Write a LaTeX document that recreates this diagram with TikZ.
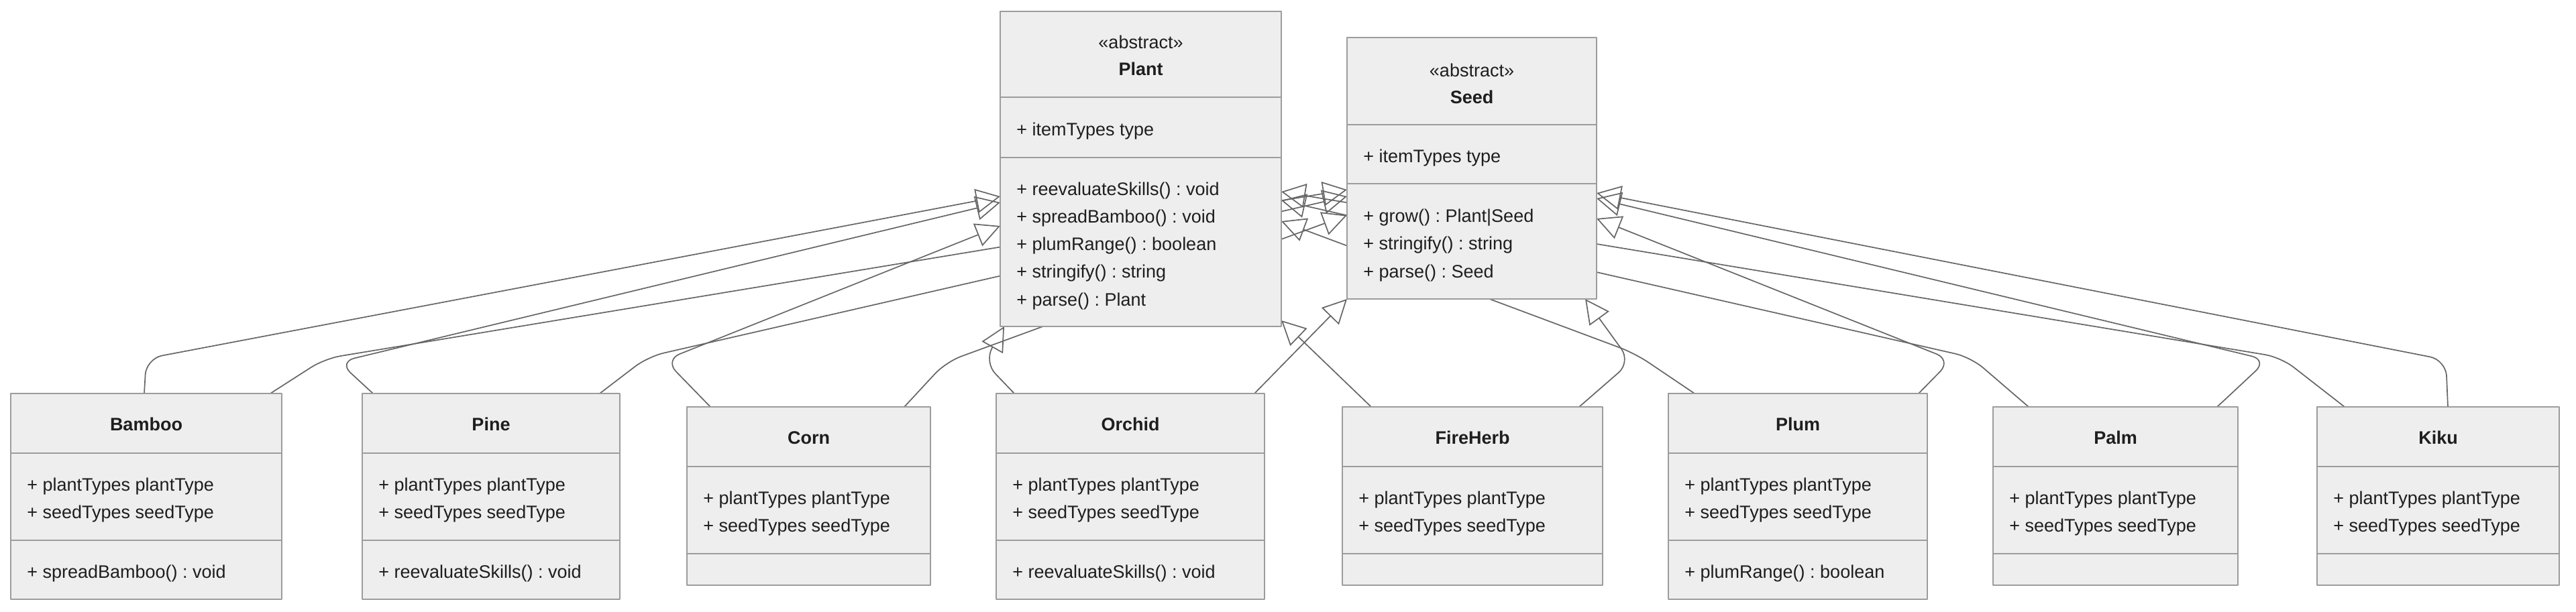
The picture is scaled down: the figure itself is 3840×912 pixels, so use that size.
\documentclass[tikz,border=0pt]{standalone}
\usepackage{fontspec}
\setmainfont{Liberation Sans}
\usetikzlibrary{arrows.meta}
\pgfdeclarelayer{bg}
\pgfsetlayers{bg,main}
\definecolor{boxfill}{HTML}{EEEEEE}
\definecolor{boxline}{HTML}{9C9C9C}
\definecolor{edgeline}{HTML}{666666}
\definecolor{txtcol}{HTML}{1E1E1E}
\newcommand\umlfont{\fontsize{13.5}{16}\selectfont\frenchspacing}
\tikzset{
  classbox/.style={draw=boxline,fill=boxfill,line width=1pt,inner sep=0pt,outer sep=0pt,anchor=north west},
  sep/.style={draw=boxline,line width=1pt},
  member/.style={anchor=west,inner sep=0pt,text height=0.72em,text depth=0pt,text=txtcol,yshift=-1pt},
  title/.style={member,anchor=center,font=\umlfont\bfseries},
  inherit/.style={draw=edgeline,line width=0.85pt,rounded corners=12pt,-{Triangle[open,length=18pt,width=18pt]}}
}
\begin{document}
\begin{tikzpicture}[x=0.5pt,y=-0.5pt,line join=round,font=\umlfont]
\useasboundingbox (0,0) rectangle (3840,912);
% abstract classes
\node[classbox,minimum width=209.5pt,minimum height=235pt] (plant) at (1491,17) {};
\draw[sep] (plant.west |- 0,145) -- (plant.east |- 0,145);
\draw[sep] (plant.west |- 0,235) -- (plant.east |- 0,235);
\node[member,anchor=center] (plant-st) at (1700.5,63) {«abstract»};
\node[title] (plant-name) at (1700.5,103) {Plant};
\node[member] (plant-a1) at (1515,193) {+ itemTypes type};
\foreach \m [count=\i] in {+ reevaluateSkills() : void,+ spreadBamboo() : void,+ plumRange() : boolean,+ stringify() : string,+ parse() : Plant}
  \node[member] (plant-m\i) at (1515,{282+(\i-1)*41.25}) {\m};

\node[classbox,minimum width=186pt,minimum height=195pt] (seed) at (2008,56) {};
\draw[sep] (seed.west |- 0,186) -- (seed.east |- 0,186);
\draw[sep] (seed.west |- 0,274) -- (seed.east |- 0,274);
\node[member,anchor=center] (seed-st) at (2194,105) {«abstract»};
\node[title] (seed-name) at (2194,145) {Seed};
\node[member] (seed-a1) at (2032,233) {+ itemTypes type};
\foreach \m [count=\i] in {+ grow() : Plant|Seed,+ stringify() : string,+ parse() : Seed}
  \node[member] (seed-m\i) at (2032,{322+(\i-1)*41.5}) {\m};

% concrete plants
\foreach \n/\lab/\x/\w/\t/\h in {bamboo/Bamboo/16/404/587/307,pine/Pine/540/384/587/307,
    corn/Corn/1024/363/607/266,orchid/Orchid/1485/400/587/307,fireherb/FireHerb/2001/388/607/266,
    plum/Plum/2487/386/587/307,palm/Palm/2971/365/607/266,kiku/Kiku/3454/361/607/266}{
  \node[classbox,minimum width=\w*0.5pt,minimum height=\h*0.5pt] (\n) at (\x,\t) {};
  \draw[sep] (\x,{\t+89}) -- ({\x+\w},{\t+89});
  \draw[sep] (\x,{\t+219}) -- ({\x+\w},{\t+219});
  \node[title] (\n-name) at ({\x+\w/2},{\t+46}) {\lab};
  \node[member] (\n-a1) at ({\x+24},{\t+136}) {+ plantTypes plantType};
  \node[member] (\n-a2) at ({\x+24},{\t+177}) {+ seedTypes seedType};
}
\node[member] (bamboo-m1) at (40,853) {+ spreadBamboo() : void};
\node[member] (pine-m1) at (564,853) {+ reevaluateSkills() : void};
\node[member] (orchid-m1) at (1509,853) {+ reevaluateSkills() : void};
\node[member] (plum-m1) at (2511,853) {+ plumRange() : boolean};

% inheritance, behind the boxes
\begin{pgfonlayer}{bg}
\draw[inherit] (215,0 |- bamboo.north) -- (218,535) -- (plant.west |- 0,293);
\draw[inherit] (403,0 |- bamboo.north) -- (484,535) -- (seed.west |- 0,283);
\draw[inherit] (556,0 |- pine.north) -- (505,540) -- (plant.west |- 0,302);
\draw[inherit] (894,0 |- pine.north) -- (966,532) -- (seed.west |- 0,293);
\draw[inherit] (1059,0 |- corn.north) -- (991,537) -- (plant.west |- 0,337);
\draw[inherit] (1348,0 |- corn.north) -- (1410,540) -- (seed.west |- 0,321);
\draw[inherit] (1512,0 |- orchid.north) -- (1467,540) -- (1497,0 |- plant.south);
\draw[inherit] (1870,0 |- orchid.north) -- (seed.south west);
\draw[inherit] (2044,0 |- fireherb.north) -- (plant.east |- 0,478);
\draw[inherit] (2354,0 |- fireherb.north) -- (2431,540) -- (2363,0 |- seed.south);
\draw[inherit] (2526,0 |- plum.north) -- (2437,527) -- (plant.east |- 0,330);
\draw[inherit] (2860,0 |- plum.north) -- (2909,537) -- (seed.east |- 0,326);
\draw[inherit] (3024,0 |- palm.north) -- (2938,533) -- (plant.east |- 0,299);
\draw[inherit] (3305,0 |- palm.north) -- (3380,537) -- (seed.east |- 0,296);
\draw[inherit] (3495,0 |- kiku.north) -- (3400,533) -- (plant.east |- 0,286);
\draw[inherit] (3649,0 |- kiku.north) -- (3646,537) -- (seed.east |- 0,288);
\end{pgfonlayer}
\end{tikzpicture}
\end{document}
